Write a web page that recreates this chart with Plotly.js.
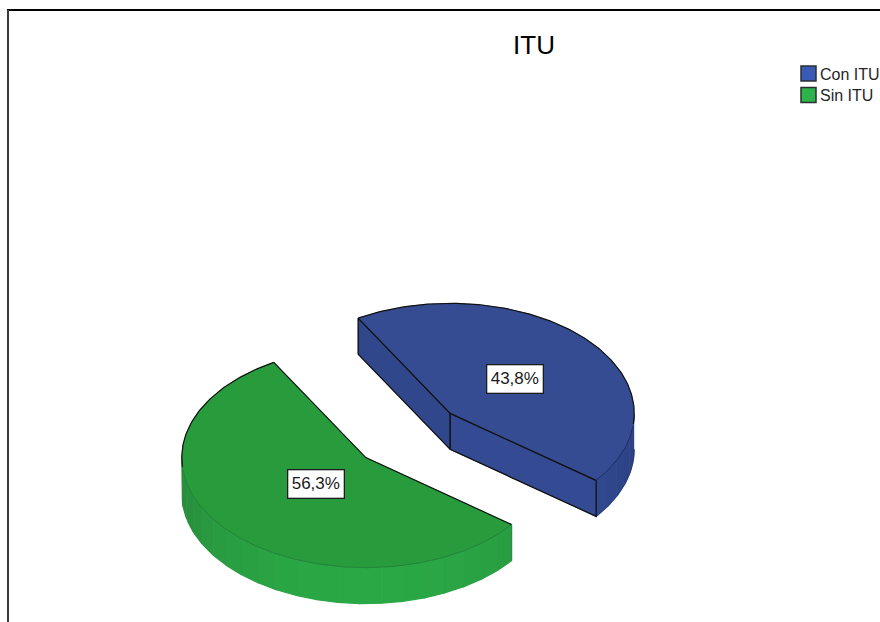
<!DOCTYPE html>
<html>
<head>
<meta charset="utf-8">
<script src="https://cdn.plot.ly/plotly-3.0.1.min.js"></script>
<style>html,body{margin:0;padding:0;background:#fff}#chart{width:880px;height:622px}</style>
</head>
<body>
<div id="chart"></div>
<script>
// Survey shares per group, in legend order
const categories = ['Con ITU', 'Sin ITU'];
const shares = [43.8, 56.3];

// Slice styling, in the same order
const topColors = ['#354c93', '#289b3c'];
const sideLight = ['#364e98', '#2aa845'];
const sideDark = ['#2b3f80', '#27883a'];
const rimColors = ['#1b2a5c', '#22803a'];
const baseRim = ['#27396f', null];
const swatchColors = ['#3a5bb5', '#2cb34a'];
const labelRadius = [0.468, 0.362];

// Tilted-pie projection
const centre = {x: 408, y: 435.5};
const radiusX = 184, radiusY = 110, depth = 36;
const explode = 0.305;
const firstAngle = 240;
const ink = '#111111';

const rad = d => d * Math.PI / 180;
const total = shares.reduce((a, b) => a + b, 0);

function mix(c1, c2, t) {
  const p = c => [1, 3, 5].map(i => parseInt(c.substr(i, 2), 16));
  const a = p(c1), b = p(c2);
  return 'rgb(' + a.map((v, i) => Math.round(v + (b[i] - v) * t)).join(',') + ')';
}

function range(a, b, step) {
  const out = [];
  const n = Math.max(1, Math.ceil((b - a) / step));
  for (let i = 0; i <= n; i++) out.push(a + (b - a) * i / n);
  return out;
}

const traces = [];
const poly = (xs, ys, color, w) => traces.push({
  x: xs, y: ys, mode: 'lines', fill: 'toself', fillcolor: color,
  line: {color: color, width: w === undefined ? 0.6 : w}, hoverinfo: 'skip', showlegend: false
});
const stroke = (xs, ys, color, width) => traces.push({
  x: xs, y: ys, mode: 'lines', line: {color: color, width: width},
  hoverinfo: 'skip', showlegend: false
});

// Angles run clockwise on screen from the +x direction
let cursor = firstAngle;
const slices = shares.map((v, i) => {
  const sweep = v / total * 360;
  const s = {i: i, start: cursor, end: cursor + sweep, mid: cursor + sweep / 2};
  cursor += sweep;
  s.cx = centre.x + explode * radiusX * Math.cos(rad(s.mid));
  s.cy = centre.y + explode * radiusY * Math.sin(rad(s.mid));
  s.px = t => s.cx + radiusX * Math.cos(rad(t));
  s.py = t => s.cy + radiusY * Math.sin(rad(t));
  return s;
});

// Back slice first so the front one overlaps it
[slices[1], slices[0]].forEach(s => {
  const shade = t => mix(sideDark[s.i], sideLight[s.i], Math.max(0, Math.sin(rad(t))));

  // Curved outer wall: only the part that faces the viewer, drawn as shaded bands
  [[0, 180], [360, 540]].forEach(win => {
    const a = Math.max(s.start, win[0]), b = Math.min(s.end, win[1]);
    if (b <= a) return;
    const steps = range(a, b, 7);
    for (let k = 0; k < steps.length - 1; k++) {
      const fine = range(steps[k], steps[k + 1], 1);
      const xs = fine.map(s.px), yTop = fine.map(s.py);
      const yLow = yTop.map(y => y + depth);
      poly(xs.concat(xs.slice().reverse()), yTop.concat(yLow.reverse()),
           shade((steps[k] + steps[k + 1]) / 2), 1.2);
    }
    if (baseRim[s.i]) {
      const arc = range(a, b, 2);
      stroke(arc.map(s.px), arc.map(t => s.py(t) + depth), baseRim[s.i], 0.6);
    }
  });

  // Flat cut walls, when they turn towards the viewer
  const cuts = [[s.start, s.start - 90], [s.end, s.end + 90]];
  cuts.forEach(([edge, normal]) => {
    if (Math.sin(rad(normal)) <= 0) return;
    const ex = s.px(edge), ey = s.py(edge);
    poly([s.cx, ex, ex, s.cx, s.cx], [s.cy, ey, ey + depth, s.cy + depth, s.cy], shade(normal));
    stroke([s.cx, ex, ex, s.cx, s.cx], [s.cy, ey, ey + depth, s.cy + depth, s.cy], ink, 1.3);
  });

  // Top face
  const rim = range(s.start, s.end, 1);
  poly([s.cx].concat(rim.map(s.px), [s.cx]), [s.cy].concat(rim.map(s.py), [s.cy]), topColors[s.i]);

  // Outlines of the top face: dark at the back, soft along the front
  const back = rim.filter(t => Math.sin(rad(t)) <= 0.1);
  const front = rim.filter(t => Math.sin(rad(t)) >= 0.1);
  stroke([s.px(s.end), s.cx, s.px(s.start)], [s.py(s.end), s.cy, s.py(s.start)], ink, 1.2);
  stroke(back.map(s.px), back.map(s.py), ink, 1.2);
  stroke(front.map(s.px), front.map(s.py), rimColors[s.i], 0.9);
  if (Math.sin(rad(s.start - 90)) <= 0) {
    stroke([s.px(s.start), s.px(s.start)], [s.py(s.start), s.py(s.start) + depth], rimColors[s.i], 1);
  }
});

// Legend rows: swatches, then their names
const legendX = 808.5, legendY = [73.5, 95];
const legendTextX = 820, legendTextY = [75.5, 96.5];
const legendFont = {family: 'Liberation Sans, Arial, sans-serif', size: 16, color: '#262626'};
categories.forEach((name, i) => {
  traces.push({
    x: [legendX], y: [legendY[i]], mode: 'markers',
    marker: {symbol: 'square', size: 15, color: swatchColors[i], line: {color: '#2b2f33', width: 1.5}},
    hoverinfo: 'skip', showlegend: false, cliponaxis: false
  });
  traces.push({
    x: [legendTextX], y: [legendTextY[i]], mode: 'text',
    text: [name], textposition: 'middle right', textfont: legendFont,
    hoverinfo: 'skip', showlegend: false, cliponaxis: false
  });
});

// Value labels on the top faces
const annotations = slices.map(s => ({
  x: s.cx + labelRadius[s.i] * radiusX * Math.cos(rad(s.mid)),
  y: s.cy + labelRadius[s.i] * radiusY * Math.sin(rad(s.mid)),
  xref: 'x', yref: 'y', showarrow: false,
  text: shares[s.i].toFixed(1).replace('.', ',') + '%',
  font: {family: 'Liberation Sans, Arial, sans-serif', size: 17, color: '#1a1a1a'},
  bgcolor: '#ffffff', bordercolor: '#1c1c1c', borderwidth: 1.3, width: 53, height: 25, align: 'center'
}));

const layout = {
  width: 880, height: 622,
  margin: {l: 0, r: 0, t: 0, b: 0},
  paper_bgcolor: '#ffffff', plot_bgcolor: '#ffffff',
  showlegend: false,
  title: {
    text: 'ITU', x: 534 / 880, xanchor: 'center', xref: 'paper',
    y: 1 - 45 / 622, yanchor: 'middle', yref: 'paper',
    font: {family: 'Liberation Sans, Arial, sans-serif', size: 26, color: '#000000'}
  },
  xaxis: {range: [0, 880], visible: false, fixedrange: true},
  yaxis: {range: [622, 0], visible: false, fixedrange: true},
  annotations: annotations,
  shapes: [
    {type: 'line', xref: 'x', yref: 'y', x0: 7, x1: 880, y0: 10, y1: 10, line: {color: '#000000', width: 2}},
    {type: 'line', xref: 'x', yref: 'y', x0: 8, x1: 8, y0: 10, y1: 622, line: {color: '#3a3a3a', width: 2}}
  ]
};

Plotly.newPlot('chart', traces, layout, {displayModeBar: false, staticPlot: true});
</script>
</body>
</html>
